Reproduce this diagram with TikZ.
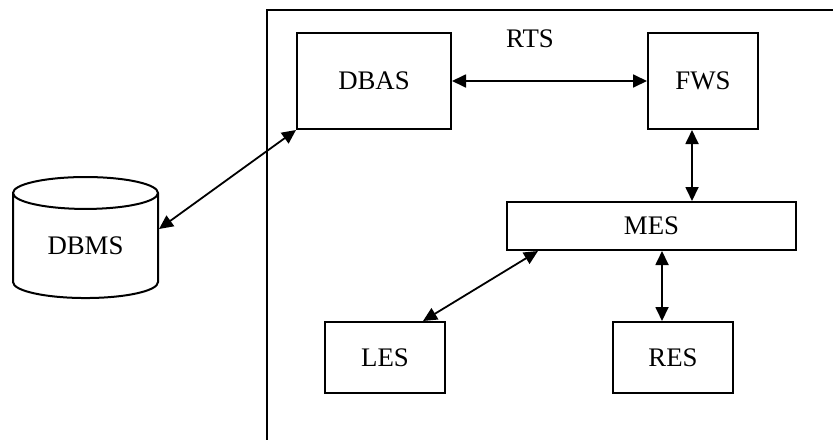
\documentclass[tikz,border=0pt]{standalone}
\usepackage{fontspec}
\setmainfont{Liberation Serif}
\usetikzlibrary{arrows.meta,shapes.geometric}

\begin{document}
\begin{tikzpicture}[x=0.5pt, y=-0.5pt,
        font=\fontsize{13.4}{15}\selectfont,
        box/.style={draw, line width=1pt, inner sep=0pt},
        link/.style={line width=0.9pt, {Triangle[length=7pt,width=6.5pt]}-{Triangle[length=7pt,width=6.5pt]}}]
        \useasboundingbox (0,0) rectangle (833,439);
        \clip (0,0) rectangle (833,439);

        % RTS frame, running past the page edge
        \draw[line width=1pt] (267,10) rectangle (900,520);
        \node (rts) at (530,39) {RTS};

        % boxes inside RTS
        \node[box, minimum width=77pt, minimum height=48pt] (dbas) at (374,81) {DBAS};
        \node[box, minimum width=55pt, minimum height=48pt] (fws) at (703,81) {FWS};
        \node[box, minimum width=144.5pt, minimum height=24pt] (mes) at (651.5,226) {MES};
        \node[box, minimum width=60pt, minimum height=35.5pt] (les) at (385,357.5) {LES};
        \node[box, minimum width=60pt, minimum height=35.5pt] (res) at (673,357.5) {RES};

        % database outside
        \node[box, cylinder, shape border rotate=90, aspect=0.42,
              minimum width=72.5pt, minimum height=60.5pt] (dbms) at (85.5,246) {DBMS};

        \draw[link] (dbas) -- (fws);
        \draw[link] ([xshift=-5.5pt]fws.south) -- ([xshift=-5.5pt]fws.south |- mes.north);
        \draw[link] ([xshift=5.25pt]mes.south) -- ([xshift=5.25pt]mes.south |- res.north);
        \draw[link] ([xshift=-56.75pt]mes.south) -- ([xshift=19pt]les.north);
        \draw[link] ([yshift=8.5pt]dbms.east) -- (dbas.south west);
\end{tikzpicture}
\end{document}
